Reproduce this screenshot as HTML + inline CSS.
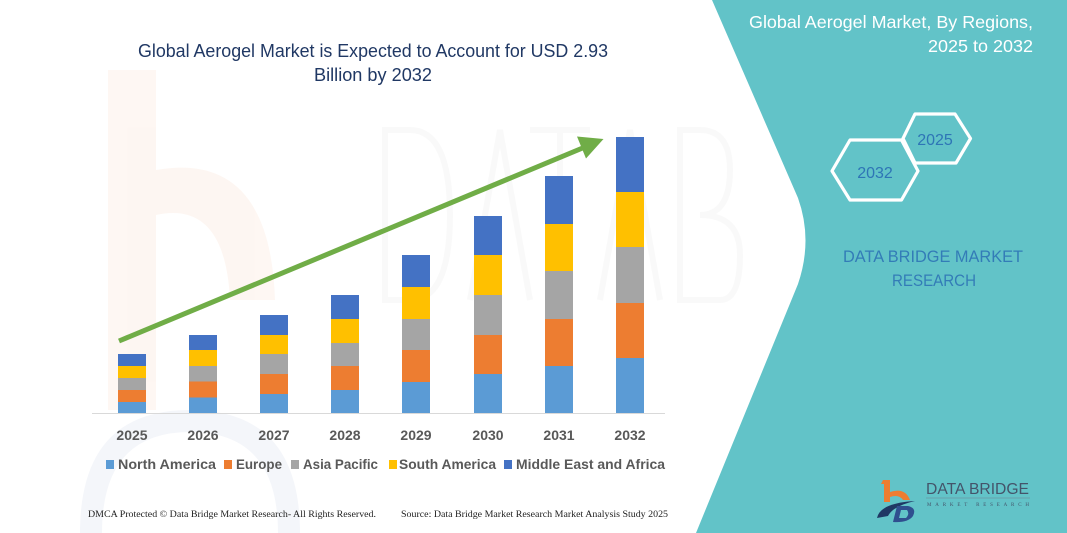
<!DOCTYPE html>
<html>
<head>
<meta charset="utf-8">
<style>
html,body{margin:0;padding:0;background:#fff;width:1067px;height:533px;overflow:hidden;}
svg{display:block;}
</style>
</head>
<body>
<svg width="1067" height="533" viewBox="0 0 1067 533" xmlns="http://www.w3.org/2000/svg">
  <rect x="0" y="0" width="1067" height="533" fill="#ffffff"/>

  <!-- faint watermark -->
  <g opacity="0.06">
    <rect x="108" y="70" width="48" height="340" fill="#ed7d31"/>
    <path d="M156 170 Q270 150 275 300 L230 300 Q225 200 156 215 Z" fill="#ed7d31"/>
  </g>
  <g opacity="0.05">
    <path d="M80 533 Q80 410 190 410 Q300 410 300 533 L278 533 Q278 432 190 432 Q102 432 102 533 Z" fill="#2f5597"/>
  </g>
  <g opacity="0.045" fill="none" stroke="#808080" stroke-width="6">
    <path d="M385 130 L385 300 L410 300 Q450 300 450 215 Q450 130 410 130 Z"/>
    <path d="M470 300 L500 130 L530 300"/>
    <path d="M530 130 L590 130 M560 130 L560 300"/>
    <path d="M600 300 L630 130 L660 300"/>
    <path d="M680 130 L680 300 L720 300 Q740 300 740 255 Q740 215 700 215 Q730 215 730 170 Q730 130 700 130 Z"/>
  </g>

  <!-- teal panel -->
  <path d="M712,0 L798,198 Q813,240 798,284 L696,533 L1067,533 L1067,0 Z" fill="#62c3c8"/>

  <!-- chart title -->
  <g font-family="'Liberation Sans', sans-serif" fill="#203864">
    <text x="138" y="57" font-size="18.5" textLength="470" lengthAdjust="spacingAndGlyphs">Global Aerogel Market is Expected to Account for USD 2.93</text>
    <text x="314" y="81" font-size="18.5" textLength="118" lengthAdjust="spacingAndGlyphs">Billion by 2032</text>
  </g>

  <!-- axis -->
  <line x1="92" y1="413.5" x2="665" y2="413.5" stroke="#d9d9d9" stroke-width="1"/>

  <!-- bars -->
  <g>
    <rect x="118" y="402" width="28" height="11" fill="#5b9bd5"/>
    <rect x="118" y="390" width="28" height="12" fill="#ed7d31"/>
    <rect x="118" y="378" width="28" height="12" fill="#a5a5a5"/>
    <rect x="118" y="366" width="28" height="12" fill="#ffc000"/>
    <rect x="118" y="354" width="28" height="12" fill="#4472c4"/>

    <rect x="189" y="397.5" width="28" height="15.5" fill="#5b9bd5"/>
    <rect x="189" y="381.5" width="28" height="16" fill="#ed7d31"/>
    <rect x="189" y="366" width="28" height="15.5" fill="#a5a5a5"/>
    <rect x="189" y="350" width="28" height="16" fill="#ffc000"/>
    <rect x="189" y="335" width="28" height="15" fill="#4472c4"/>

    <rect x="260" y="394" width="28" height="19" fill="#5b9bd5"/>
    <rect x="260" y="374" width="28" height="20" fill="#ed7d31"/>
    <rect x="260" y="354" width="28" height="20" fill="#a5a5a5"/>
    <rect x="260" y="335" width="28" height="19" fill="#ffc000"/>
    <rect x="260" y="315" width="28" height="20" fill="#4472c4"/>

    <rect x="331" y="390" width="28" height="23" fill="#5b9bd5"/>
    <rect x="331" y="366" width="28" height="24" fill="#ed7d31"/>
    <rect x="331" y="343" width="28" height="23" fill="#a5a5a5"/>
    <rect x="331" y="319" width="28" height="24" fill="#ffc000"/>
    <rect x="331" y="295" width="28" height="24" fill="#4472c4"/>

    <rect x="402" y="382" width="28" height="31" fill="#5b9bd5"/>
    <rect x="402" y="350" width="28" height="32" fill="#ed7d31"/>
    <rect x="402" y="319" width="28" height="31" fill="#a5a5a5"/>
    <rect x="402" y="287" width="28" height="32" fill="#ffc000"/>
    <rect x="402" y="255" width="28" height="32" fill="#4472c4"/>

    <rect x="474" y="374" width="28" height="39" fill="#5b9bd5"/>
    <rect x="474" y="335" width="28" height="39" fill="#ed7d31"/>
    <rect x="474" y="295" width="28" height="40" fill="#a5a5a5"/>
    <rect x="474" y="255" width="28" height="40" fill="#ffc000"/>
    <rect x="474" y="216" width="28" height="39" fill="#4472c4"/>

    <rect x="545" y="366" width="28" height="47" fill="#5b9bd5"/>
    <rect x="545" y="319" width="28" height="47" fill="#ed7d31"/>
    <rect x="545" y="271" width="28" height="48" fill="#a5a5a5"/>
    <rect x="545" y="224" width="28" height="47" fill="#ffc000"/>
    <rect x="545" y="176" width="28" height="48" fill="#4472c4"/>

    <rect x="616" y="358" width="28" height="55" fill="#5b9bd5"/>
    <rect x="616" y="303" width="28" height="55" fill="#ed7d31"/>
    <rect x="616" y="247" width="28" height="56" fill="#a5a5a5"/>
    <rect x="616" y="192" width="28" height="55" fill="#ffc000"/>
    <rect x="616" y="137" width="28" height="55" fill="#4472c4"/>
  </g>

  <!-- green arrow -->
  <line x1="119" y1="341" x2="585" y2="147" stroke="#70ad47" stroke-width="5"/>
  <polygon points="603.5,139 577,136.5 586,158.5" fill="#70ad47"/>

  <!-- year labels -->
  <g font-family="'Liberation Sans', sans-serif" font-weight="bold" font-size="14" fill="#595959" text-anchor="middle">
    <text x="132" y="440">2025</text>
    <text x="203" y="440">2026</text>
    <text x="274" y="440">2027</text>
    <text x="345" y="440">2028</text>
    <text x="416" y="440">2029</text>
    <text x="488" y="440">2030</text>
    <text x="559" y="440">2031</text>
    <text x="630" y="440">2032</text>
  </g>

  <!-- legend -->
  <g font-family="'Liberation Sans', sans-serif" font-weight="bold" font-size="14" fill="#595959">
    <rect x="106" y="460" width="8" height="9" fill="#5b9bd5"/>
    <text x="118" y="469" textLength="98" lengthAdjust="spacingAndGlyphs">North America</text>
    <rect x="224" y="460" width="8" height="9" fill="#ed7d31"/>
    <text x="236" y="469" textLength="46" lengthAdjust="spacingAndGlyphs">Europe</text>
    <rect x="291" y="460" width="8" height="9" fill="#a5a5a5"/>
    <text x="303" y="469" textLength="75" lengthAdjust="spacingAndGlyphs">Asia Pacific</text>
    <rect x="389" y="460" width="8" height="9" fill="#ffc000"/>
    <text x="399" y="469" textLength="97" lengthAdjust="spacingAndGlyphs">South America</text>
    <rect x="504" y="460" width="8" height="9" fill="#4472c4"/>
    <text x="516" y="469" textLength="149" lengthAdjust="spacingAndGlyphs">Middle East and Africa</text>
  </g>

  <!-- footer -->
  <g font-family="'Liberation Serif', serif" font-size="9.5" fill="#222">
    <text x="88" y="517" textLength="288" lengthAdjust="spacingAndGlyphs">DMCA Protected © Data Bridge Market Research-  All Rights Reserved.</text>
    <text x="401" y="517" textLength="267" lengthAdjust="spacingAndGlyphs">Source: Data Bridge Market Research  Market Analysis Study 2025</text>
  </g>

  <!-- right panel title -->
  <g font-family="'Liberation Sans', sans-serif" font-size="17.5" fill="#ffffff" text-anchor="end">
    <text x="1033" y="28" textLength="284" lengthAdjust="spacingAndGlyphs">Global Aerogel Market, By Regions,</text>
    <text x="1033" y="52" textLength="105" lengthAdjust="spacingAndGlyphs">2025 to 2032</text>
  </g>

  <!-- hexagons -->
  <g fill="none" stroke="#ffffff" stroke-width="3.2" stroke-linejoin="round">
    <polygon points="903,138.5 915,114 955,114 970.5,138.5 956,163 915,163"/>
    <polygon points="832,171 850,140 901.5,140 918,171 901.5,200 850,200"/>
  </g>
  <g font-family="'Liberation Sans', sans-serif" font-size="16" fill="#2e75b6" text-anchor="middle">
    <text x="935" y="145">2025</text>
    <text x="875" y="178">2032</text>
  </g>

  <!-- DATA BRIDGE MARKET RESEARCH -->
  <g font-family="'Liberation Sans', sans-serif" font-size="17" fill="#2e75b6" text-anchor="middle" opacity="0.9">
    <text x="933" y="262" textLength="180" lengthAdjust="spacingAndGlyphs">DATA BRIDGE MARKET</text>
    <text x="934" y="286" textLength="84" lengthAdjust="spacingAndGlyphs">RESEARCH</text>
  </g>

  <!-- logo -->
  <g>
    <path d="M883,480 L890,480 L890,492 Q905,487 910,500 L903,500 Q899,494 890,497 L890,502 L884,502 L884,484 L881,484 Z" fill="#ed7d31"/>
    <path d="M877,518 Q880,503 915,501 Q893,506 888,516 Z" fill="#1f3864"/>
    <path d="M893,522 L897,506 L908,506 Q917,508 913,516 Q908,523 893,522 Z M899,518 L906,518 Q910,514 907,510 L901,510 Z" fill="#2f4f8f" fill-rule="evenodd"/>
  </g>
  <text x="926" y="494" font-family="'Liberation Sans', sans-serif" font-size="16" fill="#44546a" textLength="103" lengthAdjust="spacingAndGlyphs">DATA BRIDGE</text>
  <line x1="926" y1="498" x2="1030" y2="498" stroke="#6f8090" stroke-width="0.6"/>
  <text x="927" y="506" font-family="'Liberation Serif', serif" font-size="5" fill="#44546a" textLength="102" lengthAdjust="spacing">MARKET  RESEARCH</text>
</svg>
</body>
</html>
